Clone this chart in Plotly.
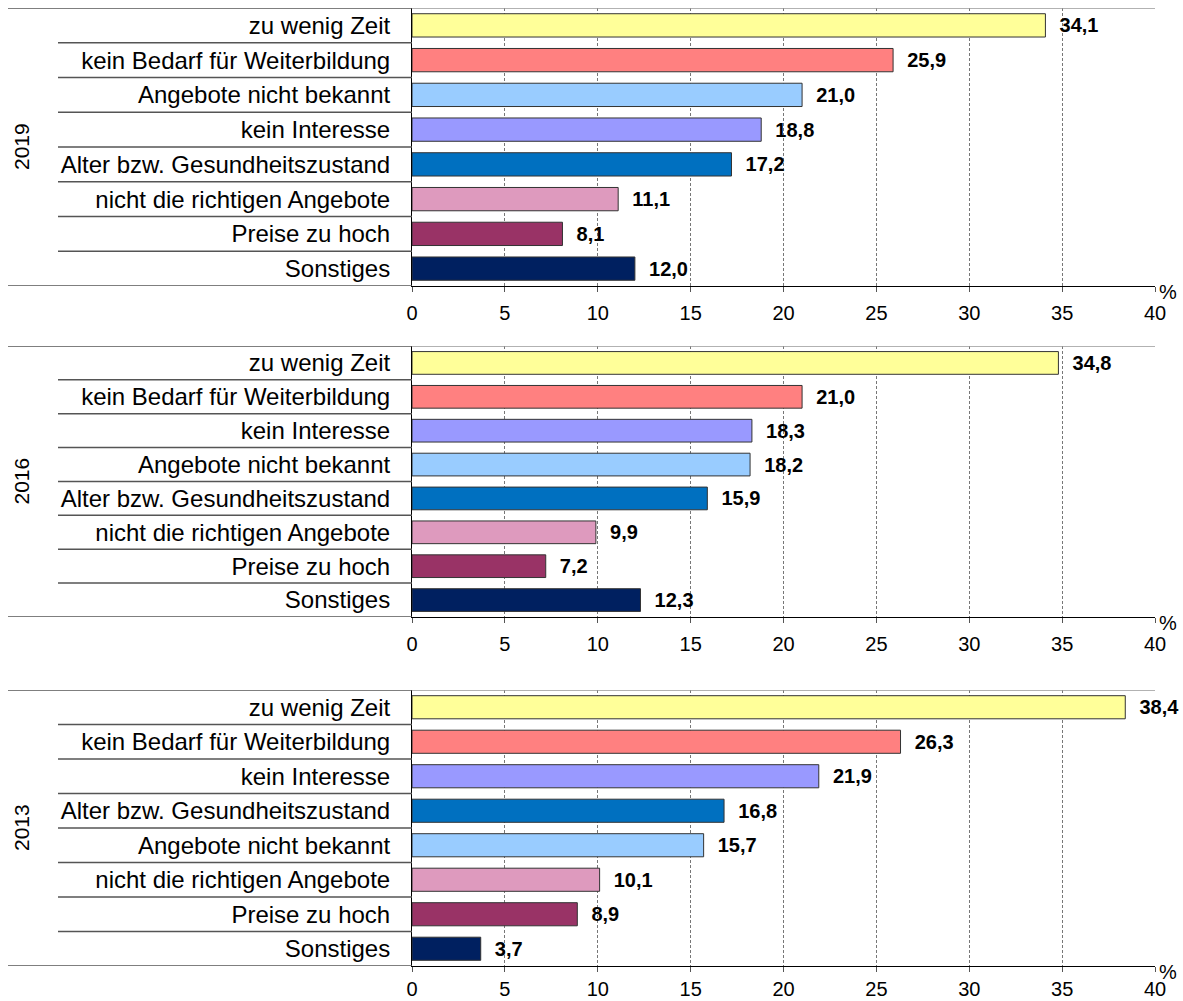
import plotly.graph_objects as go

# --- data ---
years = ["2019", "2016", "2013"]

cats_2019 = ["zu wenig Zeit", "kein Bedarf für Weiterbildung", "Angebote nicht bekannt",
             "kein Interesse", "Alter bzw. Gesundheitszustand", "nicht die richtigen Angebote",
             "Preise zu hoch", "Sonstiges"]
vals_2019 = [34.1, 25.9, 21.0, 18.8, 17.2, 11.1, 8.1, 12.0]

cats_2016 = ["zu wenig Zeit", "kein Bedarf für Weiterbildung", "kein Interesse",
             "Angebote nicht bekannt", "Alter bzw. Gesundheitszustand", "nicht die richtigen Angebote",
             "Preise zu hoch", "Sonstiges"]
vals_2016 = [34.8, 21.0, 18.3, 18.2, 15.9, 9.9, 7.2, 12.3]

cats_2013 = ["zu wenig Zeit", "kein Bedarf für Weiterbildung", "kein Interesse",
             "Alter bzw. Gesundheitszustand", "Angebote nicht bekannt", "nicht die richtigen Angebote",
             "Preise zu hoch", "Sonstiges"]
vals_2013 = [38.4, 26.3, 21.9, 16.8, 15.7, 10.1, 8.9, 3.7]

x_ticks = [0, 5, 10, 15, 20, 25, 30, 35, 40]

colors = {
    "zu wenig Zeit": "#FFFF99",
    "kein Bedarf für Weiterbildung": "#FF8080",
    "Angebote nicht bekannt": "#99CCFF",
    "kein Interesse": "#9999FF",
    "Alter bzw. Gesundheitszustand": "#0070C0",
    "nicht die richtigen Angebote": "#DE9ABE",
    "Preise zu hoch": "#993366",
    "Sonstiges": "#002060",
}

W, H = 1183, 1001
FONT = "Arial, Liberation Sans, sans-serif"

panels = [
    (years[0], cats_2019, vals_2019, (8, 286)),
    (years[1], cats_2016, vals_2016, (346, 617)),
    (years[2], cats_2013, vals_2013, (690, 966)),
]

x_left, x_right = 412, 1155

fig = go.Figure()
shapes = []
annotations = []

for i, (year, cats, vals, (ptop, pbot)) in enumerate(panels):
    n = i + 1
    xa = "x" if n == 1 else f"x{n}"
    ya = "y" if n == 1 else f"y{n}"
    fig.add_trace(go.Bar(
        x=vals,
        y=cats,
        orientation="h",
        marker=dict(color=[colors[c] for c in cats], line=dict(color="#333333", width=1)),
        text=["\u00a0\u00a0" + f"{v:.1f}".replace(".", ",") for v in vals],
        textposition="outside",
        textfont=dict(family=FONT, size=20, color="black", weight="bold"),
        constraintext="none",
        cliponaxis=False,
        xaxis=xa,
        yaxis=ya,
        showlegend=False,
        hoverinfo="skip",
    ))

    dom = [1 - pbot / H, 1 - ptop / H]
    fig.layout[f"xaxis{'' if n == 1 else n}"] = dict(
        domain=[x_left / W, x_right / W],
        anchor=ya,
        range=[0, 40],
        tickvals=x_ticks,
        ticktext=[str(t) for t in x_ticks],
        showgrid=True,
        gridcolor="#777777",
        griddash="3px,2px",
        gridwidth=1,
        zeroline=False,
        showline=True,
        linecolor="black",
        linewidth=1,
        ticks="outside",
        ticklen=5,
        tickcolor="#555555",
        ticklabelstandoff=4 if n < 3 else 0,
        tickfont=dict(family=FONT, size=20, color="black"),
        automargin=False,
    )
    fig.layout[f"yaxis{'' if n == 1 else n}"] = dict(
        domain=dom,
        anchor=xa,
        type="category",
        categoryorder="array",
        categoryarray=cats,
        range=[len(cats) - 0.5, -0.5],
        showgrid=False,
        zeroline=False,
        showline=True,
        linecolor="black",
        linewidth=1,
        ticks="",
        ticklabelstandoff=16,
        tickfont=dict(family=FONT, size=24, color="black"),
        automargin=False,
    )

    # table-like separators on the category side
    yref = ya
    for k in range(len(cats) + 1):
        edge = k == 0 or k == len(cats)
        shapes.append(dict(
            type="line", xref="paper", yref=yref,
            x0=(8 if edge else 58) / W, x1=x_left / W,
            y0=k - 0.5, y1=k - 0.5,
            line=dict(color="#555555", width=1.5),
        ))
    # top border of plot area
    shapes.append(dict(
        type="line", xref="paper", yref=yref,
        x0=x_left / W, x1=x_right / W, y0=-0.5, y1=-0.5,
        line=dict(color="#999999", width=1.5),
    ))

    annotations.append(dict(
        text=year, xref="paper", yref="paper",
        x=21 / W, y=(dom[0] + dom[1]) / 2,
        xanchor="center", yanchor="middle",
        textangle=-90, showarrow=False,
        font=dict(family=FONT, size=21, color="black"),
    ))
    annotations.append(dict(
        text="%", xref="paper", yref="paper",
        x=1168 / W, y=1 - (pbot + 6) / H,
        xanchor="center", yanchor="middle", showarrow=False,
        font=dict(family=FONT, size=20, color="black"),
    ))

fig.update_layout(
    width=W,
    height=H,
    autosize=False,
    margin=dict(l=0, r=0, t=0, b=0, pad=0),
    paper_bgcolor="white",
    plot_bgcolor="white",
    bargap=0.33,
    separators=",.",
    shapes=shapes,
    annotations=annotations,
    font=dict(family=FONT, color="black"),
)

fig.write_html(
    "out.html",
    config={"displayModeBar": False, "responsive": False},
    post_script="document.body.style.margin='0';document.body.style.overflow='hidden';",
)
